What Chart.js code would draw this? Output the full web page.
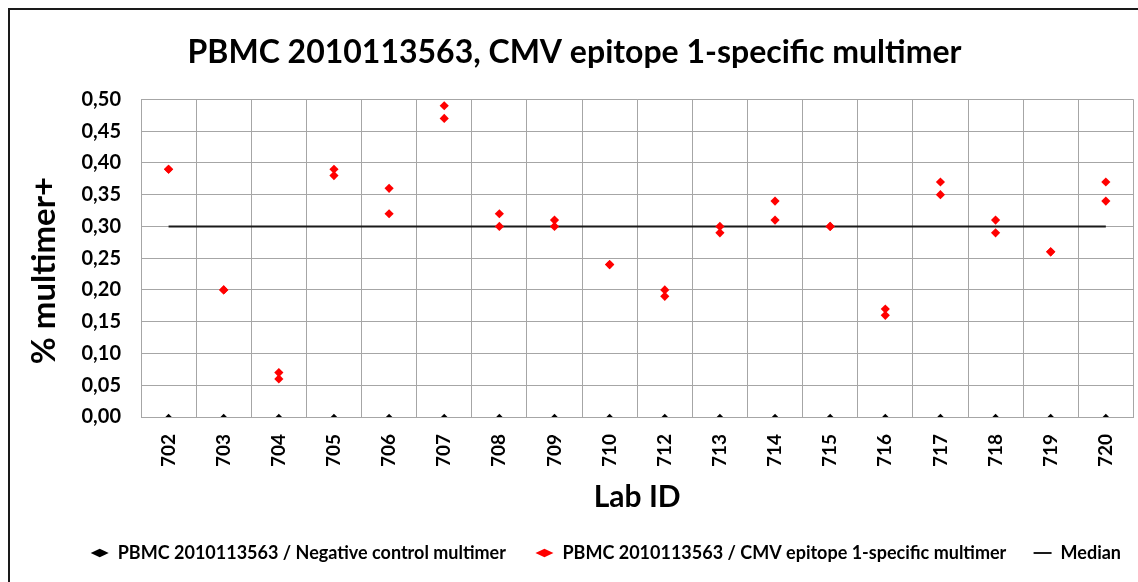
<!DOCTYPE html>
<html>
<head>
<meta charset="utf-8">
<script src="https://cdn.jsdelivr.net/npm/chart.js@4.4.1/dist/chart.umd.min.js"></script>
<style>
  html, body { margin: 0; padding: 0; background: #fff; }
  #wrap { width: 1138px; height: 582px; position: relative; }
</style>
</head>
<body>
<div id="wrap"><canvas id="chart"></canvas></div>
<script>
// Lab IDs on the x axis (711 is missing in the source)
const labIds = ['702', '703', '704', '705', '706', '707', '708', '709', '710',
                '712', '713', '714', '715', '716', '717', '718', '719', '720'];

// negative control multimer: all zero
const negativeControl = [0, 0, 0, 0, 0, 0, 0, 0, 0, 0, 0, 0, 0, 0, 0, 0, 0, 0];

// CMV epitope 1-specific multimer, two replicates per lab
const cmvRep1 = [0.39, 0.20, 0.07, 0.39, 0.36, 0.49, 0.32, 0.31, 0.24,
                 0.20, 0.30, 0.34, 0.30, 0.17, 0.37, 0.31, 0.26, 0.37];
const cmvRep2 = [0.39, 0.20, 0.06, 0.38, 0.32, 0.47, 0.30, 0.30, 0.24,
                 0.19, 0.29, 0.31, 0.30, 0.16, 0.35, 0.29, 0.26, 0.34];

const medianValue = 0.30;
const medianLine = labIds.map(() => medianValue);

const yMin = 0, yMax = 0.5, yStep = 0.05;

const FONT = 'Lato, "DejaVu Sans", sans-serif';
const GRID = '#a6a6a6';

// outer frame of the figure (top and left edge, the rest is cut off)
const framePlugin = {
  id: 'frame',
  beforeDraw(chart) {
    const ctx = chart.ctx;
    ctx.save();
    ctx.fillStyle = '#fff';
    ctx.fillRect(0, 0, chart.width, chart.height);
    ctx.strokeStyle = '#1a1a1a';
    ctx.lineWidth = 2;
    ctx.beginPath();
    ctx.moveTo(9, chart.height);
    ctx.lineTo(9, 9);
    ctx.lineTo(chart.width, 9);
    ctx.stroke();
    ctx.restore();
  }
};

const canvas = document.getElementById('chart');
new Chart(canvas, {
  type: 'line',
  data: {
    labels: labIds,
    datasets: [{
      label: 'PBMC 2010113563 / Negative control multimer',
      data: negativeControl,
      showLine: false,
      pointStyle: 'rectRot',
      pointRadius: 3.2,
      backgroundColor: '#000',
      borderColor: '#000',
      borderWidth: 0
    }, {
      label: 'PBMC 2010113563 / CMV epitope 1-specific multimer',
      data: cmvRep1,
      showLine: false,
      pointStyle: 'rectRot',
      pointRadius: 4.6,
      backgroundColor: '#ff0000',
      borderColor: '#ff0000',
      borderWidth: 0
    }, {
      label: 'PBMC 2010113563 / CMV epitope 1-specific multimer',
      data: cmvRep2,
      showLine: false,
      pointStyle: 'rectRot',
      pointRadius: 4.6,
      backgroundColor: '#ff0000',
      borderColor: '#ff0000',
      borderWidth: 0
    }, {
      label: 'Median',
      data: medianLine,
      borderColor: '#1a1a1a',
      backgroundColor: '#1a1a1a',
      borderWidth: 2,
      pointRadius: 0,
      pointStyle: 'line',
      fill: false
    }]
  },
  options: {
    responsive: true,
    maintainAspectRatio: false,
    animation: false,
    layout: { padding: { left: 12, right: 1, top: 0, bottom: 10 } },
    plugins: {
      title: {
        display: true,
        text: 'PBMC 2010113563, CMV epitope 1-specific multimer',
        color: '#000',
        font: { family: FONT, size: 32, weight: 'bold' },
        padding: { top: 33, bottom: 28 }
      },
      legend: {
        position: 'bottom',
        align: 'end',
        labels: {
          usePointStyle: true,
          boxHeight: 6,
          pointStyleWidth: 18,
          color: '#000',
          padding: 16,
          font: { family: FONT, size: 18, weight: 'bold' },
          // second replicate shares the red legend entry
          filter: item => item.datasetIndex !== 2,
          generateLabels(chart) {
            const items = Chart.defaults.plugins.legend.labels.generateLabels(chart);
            items.forEach(item => {
              if (item.datasetIndex === 0) item.text += '\u2003';
              if (item.datasetIndex === 1) item.text += '\u2002\u2009';
            });
            return items;
          }
        }
      },
      tooltip: { enabled: false }
    },
    scales: {
      x: {
        offset: true,
        grid: { offset: true, color: GRID, lineWidth: 1, drawTicks: false },
        border: { color: GRID },
        ticks: {
          color: '#000',
          padding: 17,
          minRotation: 90,
          maxRotation: 90,
          font: { family: FONT, size: 19, weight: 'bold' }
        },
        title: {
          display: true,
          text: 'Lab ID',
          color: '#000',
          font: { family: FONT, size: 30, weight: 'bold' },
          padding: { top: 0, bottom: 13 }
        },
        afterFit(scale) {
          scale.height = 111;
          scale.paddingLeft = 0;
          scale.paddingRight = 0;
        }
      },
      y: {
        min: yMin,
        max: yMax,
        grid: { color: GRID, lineWidth: 1, drawTicks: false },
        border: { color: GRID },
        ticks: {
          stepSize: yStep,
          color: '#000',
          padding: 20,
          font: { family: FONT, size: 20, weight: 'bold' },
          callback: v => v.toFixed(2).replace('.', ',')
        },
        title: {
          display: true,
          text: '% multimer+\u2003',
          color: '#000',
          font: { family: FONT, size: 33, weight: 'bold' },
          padding: { top: 13, bottom: 0 }
        },
        afterFit(scale) { scale.width = 129; }
      }
    }
  },
  plugins: [framePlugin]
});
</script>
</body>
</html>
